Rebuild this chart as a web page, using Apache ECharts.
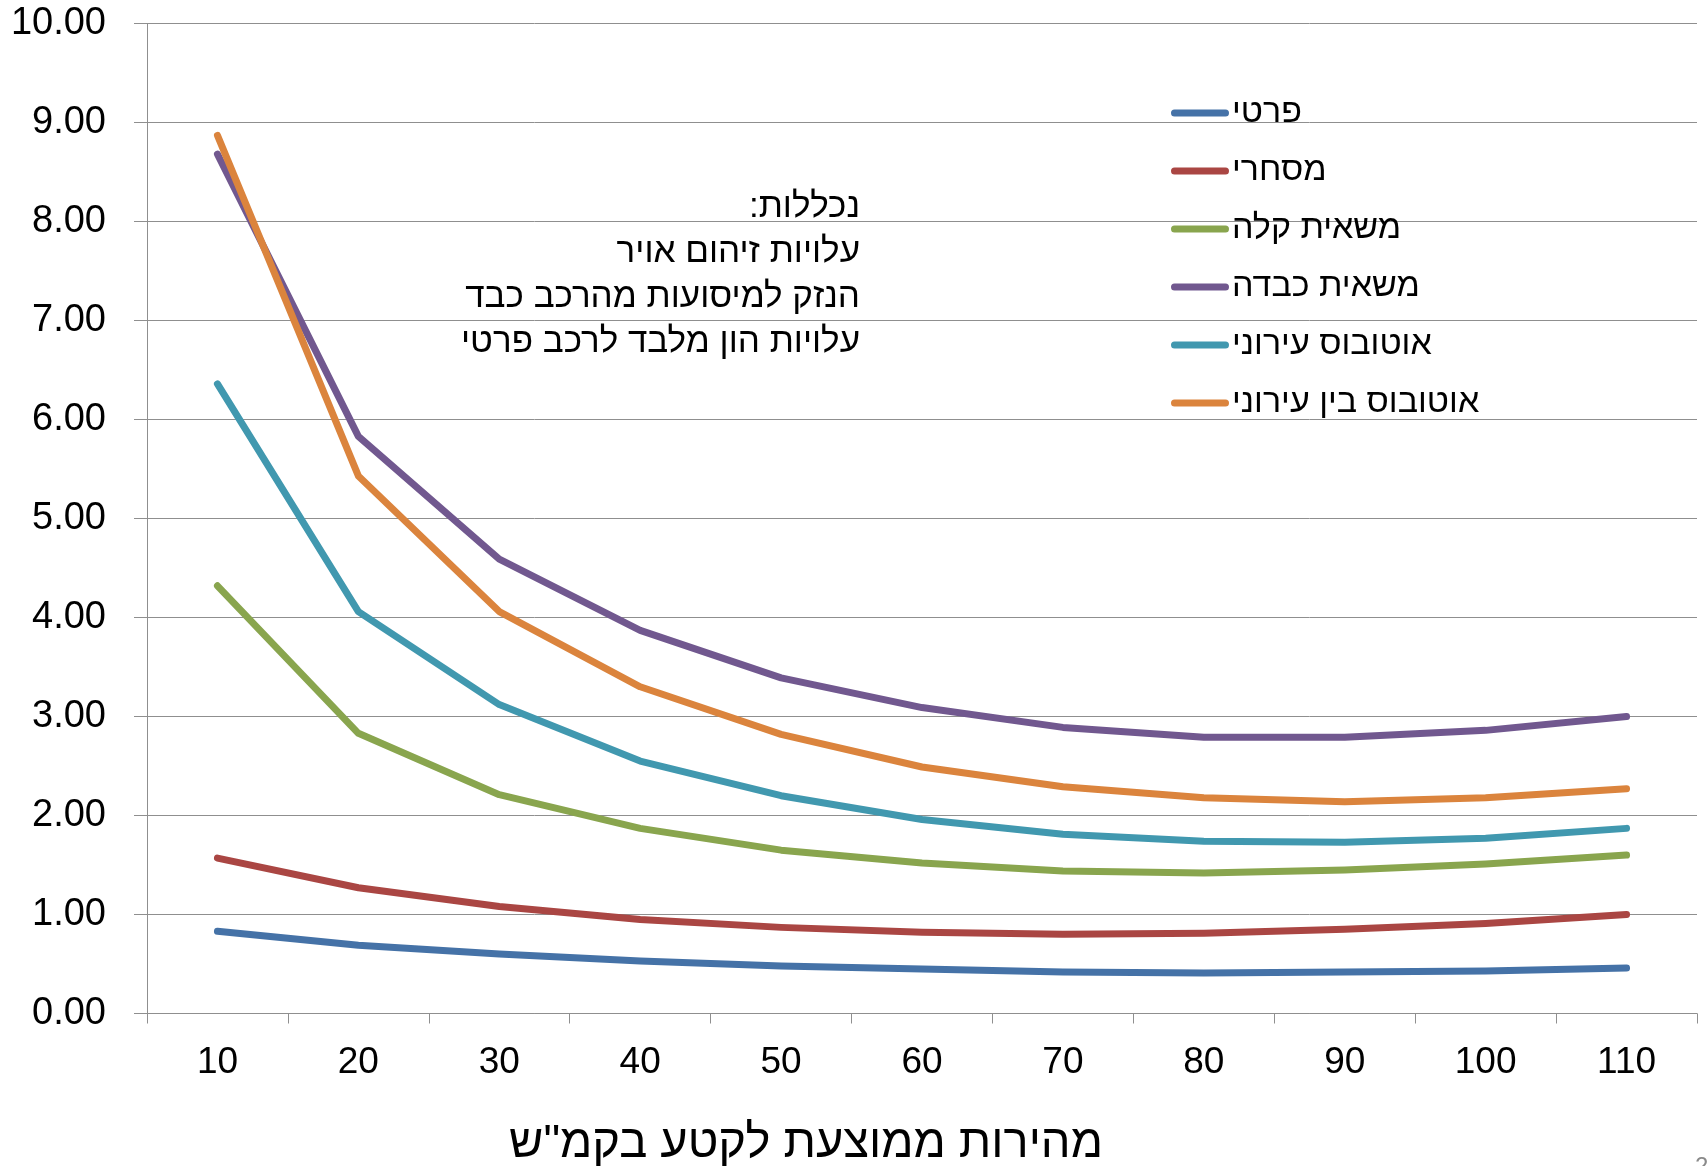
<!DOCTYPE html>
<html>
<head>
<meta charset="utf-8">
<title>עלויות חיצוניות לפי מהירות</title>
<script src="https://cdn.jsdelivr.net/npm/echarts@6/dist/echarts.min.js"></script>
<style>
  html, body { margin: 0; padding: 0; background: #ffffff; }
  #chart { width: 1707px; height: 1166px; }
</style>
</head>
<body>
<div id="chart"></div>
<script>
// Average segment speed (km/h)
const speeds = ['10', '20', '30', '40', '50', '60', '70', '80', '90', '100', '110'];

// Vehicle types
const seriesNames = ['פרטי', 'מסחרי', 'משאית קלה', 'משאית כבדה', 'אוטובוס עירוני', 'אוטובוס בין עירוני'];

// Cost per vehicle-km for each vehicle type
const privateCar   = [0.83, 0.69, 0.60, 0.53, 0.48, 0.45, 0.42, 0.41, 0.42, 0.43, 0.46];
const commercial   = [1.57, 1.27, 1.08, 0.95, 0.87, 0.82, 0.80, 0.81, 0.85, 0.91, 1.00];
const lightTruck   = [4.32, 2.83, 2.21, 1.87, 1.65, 1.52, 1.44, 1.42, 1.45, 1.51, 1.60];
const heavyTruck   = [8.68, 5.83, 4.59, 3.87, 3.39, 3.09, 2.89, 2.79, 2.79, 2.86, 3.00];
const cityBus      = [6.36, 4.06, 3.12, 2.55, 2.20, 1.96, 1.81, 1.74, 1.73, 1.77, 1.87];
const intercityBus = [8.87, 5.43, 4.06, 3.30, 2.82, 2.49, 2.29, 2.18, 2.14, 2.18, 2.27];

const seriesValues = [privateCar, commercial, lightTruck, heavyTruck, cityBus, intercityBus];
const seriesColors = ['#4572A7', '#AA4643', '#89A54E', '#71588F', '#4198AF', '#DB843D'];

// Y axis tick values
const yMin = 0, yMax = 10, yStep = 1;

// Notes and axis title
const noteLines = ['נכללות:\u200F', 'עלויות זיהום אויר', 'הנזק למיסועות מהרכב כבד', 'עלויות הון מלבד לרכב פרטי'];
const xAxisTitle = 'מהירות ממוצעת לקטע בקמ"ש';

const FONT = 'Arial, "Liberation Sans", sans-serif';
const GRID_GRAY = '#8f8f8f';

const chart = echarts.init(document.getElementById('chart'), null, { renderer: 'canvas' });

const option = {
  backgroundColor: '#ffffff',
  animation: false,
  textStyle: { fontFamily: FONT },
  grid: { left: 147, right: 10, top: 23.5, bottom: 152.5, containLabel: false },
  legend: {
    orient: 'vertical',
    left: 1166,
    top: 91,
    itemWidth: 58,
    itemHeight: 7,
    itemGap: 24,
    selectedMode: false,
    icon: 'path://M3.5,0L54.5,0A3.5,3.5,0,0,1,54.5,7L3.5,7A3.5,3.5,0,0,1,3.5,0Z',
    textStyle: { fontSize: 34, lineHeight: 34, color: '#000000', fontFamily: FONT, padding: [0, 0, 0, -2] },
    data: seriesNames
  },
  xAxis: {
    type: 'category',
    data: speeds,
    boundaryGap: true,
    axisLine: { show: true, lineStyle: { color: GRID_GRAY, width: 1 } },
    axisTick: { show: true, interval: 0, length: 10, alignWithLabel: false, lineStyle: { color: GRID_GRAY } },
    axisLabel: { interval: 0, margin: 31, fontSize: 37, color: '#000000', fontFamily: FONT },
    splitLine: { show: false }
  },
  yAxis: {
    type: 'value',
    min: yMin,
    max: yMax,
    interval: yStep,
    axisLine: { show: true, lineStyle: { color: GRID_GRAY, width: 1 } },
    axisTick: { show: true, length: 13, lineStyle: { color: GRID_GRAY } },
    axisLabel: {
      margin: 41,
      fontSize: 38,
      color: '#000000',
      fontFamily: FONT,
      formatter: v => v.toFixed(2)
    },
    splitLine: { show: true, lineStyle: { color: GRID_GRAY, width: 1 } }
  },
  graphic: [
    {
      type: 'text',
      x: 860,
      y: 185,
      style: {
        text: noteLines.join('\n'),
        fontSize: 35,
        lineHeight: 45,
        fontFamily: FONT,
        fill: '#000000',
        textAlign: 'right',
        textVerticalAlign: 'top'
      }
    },
    {
      type: 'text',
      x: 806,
      y: 1144,
      style: {
        text: xAxisTitle,
        fontSize: 47,
        fontFamily: FONT,
        fill: '#000000',
        textAlign: 'center',
        textVerticalAlign: 'middle'
      }
    },
    {
      type: 'text',
      x: 1695,
      y: 1155,
      style: { text: '2', fontSize: 24, fontFamily: FONT, fill: '#8a8a8a', textVerticalAlign: 'top' }
    }
  ],
  series: seriesNames.map((name, i) => ({
    name: name,
    type: 'line',
    data: seriesValues[i],
    symbol: 'none',
    smooth: false,
    color: seriesColors[i],
    lineStyle: { width: 7, color: seriesColors[i], cap: 'round', join: 'round' },
    emphasis: { disabled: true }
  }))
};

chart.setOption(option);
</script>
</body>
</html>
